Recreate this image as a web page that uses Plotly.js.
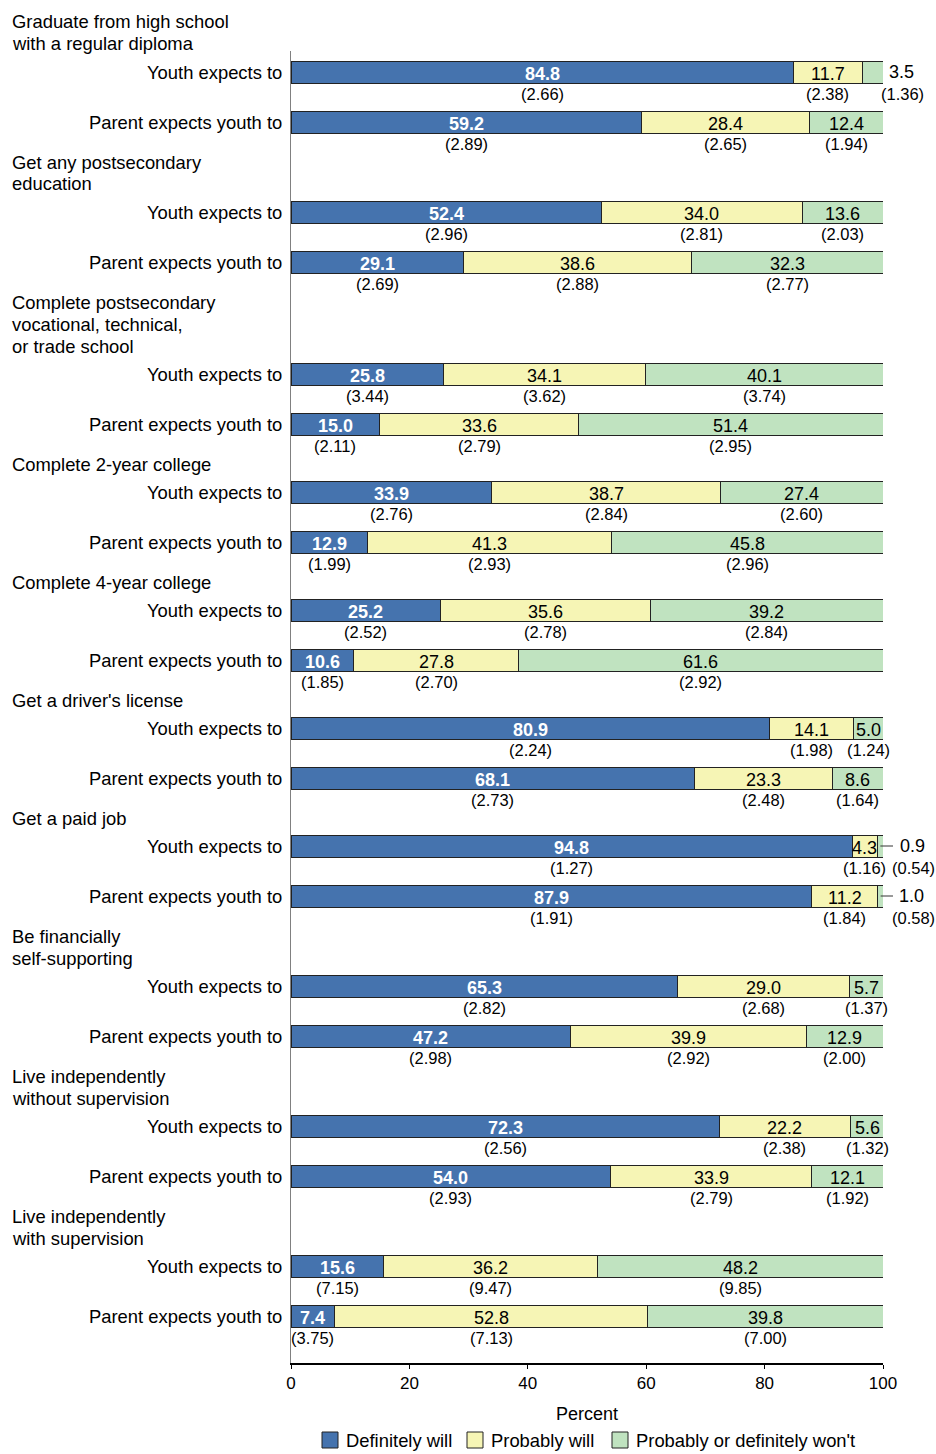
<!DOCTYPE html>
<html>
<head>
<meta charset="utf-8">
<script src="https://cdn.plot.ly/plotly-3.0.1.min.js"></script>
<style>html,body{margin:0;padding:0;background:#fff;}#chart{width:936px;height:1454px;}</style>
</head>
<body>
<div id="chart"></div>
<script>
// ---------- DATA ----------
const groupHeaders = [
  ["Graduate from high school", "with a regular diploma"],
  ["Get any postsecondary", "education"],
  ["Complete postsecondary", "vocational, technical,", "or trade school"],
  ["Complete 2-year college"],
  ["Complete 4-year college"],
  ["Get a driver's license"],
  ["Get a paid job"],
  ["Be financially", "self-supporting"],
  ["Live independently", "without supervision"],
  ["Live independently", "with supervision"]
];
const respondents = ["Youth expects to", "Parent expects youth to"];
const seriesNames = ["Definitely will", "Probably will", "Probably or definitely won't"];
const xAxisTitle = "Percent";

// rows: for each group, youth then parent
const definitelyWill = [84.8, 59.2, 52.4, 29.1, 25.8, 15.0, 33.9, 12.9, 25.2, 10.6, 80.9, 68.1, 94.8, 87.9, 65.3, 47.2, 72.3, 54.0, 15.6, 7.4];
const probablyWill   = [11.7, 28.4, 34.0, 38.6, 34.1, 33.6, 38.7, 41.3, 35.6, 27.8, 14.1, 23.3, 4.3, 11.2, 29.0, 39.9, 22.2, 33.9, 36.2, 52.8];
const wont           = [3.5, 12.4, 13.6, 32.3, 40.1, 51.4, 27.4, 45.8, 39.2, 61.6, 5.0, 8.6, 0.9, 1.0, 5.7, 12.9, 5.6, 12.1, 48.2, 39.8];
const seDefinitely   = [2.66, 2.89, 2.96, 2.69, 3.44, 2.11, 2.76, 1.99, 2.52, 1.85, 2.24, 2.73, 1.27, 1.91, 2.82, 2.98, 2.56, 2.93, 7.15, 3.75];
const seProbably     = [2.38, 2.65, 2.81, 2.88, 3.62, 2.79, 2.84, 2.93, 2.78, 2.70, 1.98, 2.48, 1.16, 1.84, 2.68, 2.92, 2.38, 2.79, 9.47, 7.13];
const seWont         = [1.36, 1.94, 2.03, 2.77, 3.74, 2.95, 2.60, 2.96, 2.84, 2.92, 1.24, 1.64, 0.54, 0.58, 1.37, 2.00, 1.32, 1.92, 9.85, 7.00];
const xTicks = [0, 20, 40, 60, 80, 100];

// ---------- LAYOUT / STYLE ----------
const W = 936, H = 1454;
const M = {l: 291, r: 53, t: 51, b: 91};
const plotW = W - M.l - M.r;
const plotH = H - M.t - M.b;
const pxPerUnit = plotW / 100;
const colors = ["#4573ae", "#f6f5b5", "#c0e3c0"];
const FONT = "Arial, 'Liberation Sans', sans-serif";
const LABEL_SIZE = 18.4;
const xp = px => (px - M.l) / plotW;          // pixel -> paper x
const yp = py => (H - M.b - py) / plotH;      // pixel -> paper y

// vertical layout in pixel-units (y axis is mapped 1:1 to pixels)
const headerLine = 22, headerToBar = 28, rowGap = 50, groupGap = 40;
let cursor = 22;
const headerPos = [];
const rowY = [];
groupHeaders.forEach(lines => {
  lines.forEach((t, i) => headerPos.push({text: t, y: cursor + headerLine * i}));
  const last = cursor + headerLine * (lines.length - 1);
  const youth = last + headerToBar;
  const parent = youth + rowGap;
  rowY.push(youth, parent);
  cursor = parent + groupGap;
});
const rowLabels = rowY.map((_, i) => respondents[i % 2]);

const series = [definitelyWill, probablyWill, wont];
const seSeries = [seDefinitely, seProbably, seWont];

const traces = series.map((vals, k) => ({
  type: "bar",
  orientation: "h",
  name: seriesNames[k],
  x: vals,
  y: rowY,
  width: 22,
  marker: {color: colors[k], line: {color: "#222", width: 1}},
  hoverinfo: "skip"
}));

const annotations = [];
const shapes = [];

// group headers
headerPos.forEach(h => annotations.push({
  xref: "paper", yref: "paper", x: xp(10), y: yp(h.y),
  xanchor: "left", yanchor: "middle", showarrow: false,
  text: h.text, font: {family: FONT, size: LABEL_SIZE, color: "#000"}
}));
// row labels
rowY.forEach((y, i) => annotations.push({
  xref: "paper", yref: "y", x: xp(284), y: y,
  xanchor: "right", yanchor: "middle", showarrow: false,
  text: rowLabels[i], font: {family: FONT, size: LABEL_SIZE, color: "#000"}
}));

// value and SE labels
rowY.forEach((y, i) => {
  let start = 0;
  series.forEach((vals, k) => {
    const v = vals[i];
    const se = seSeries[k][i];
    const cx = start + v / 2;
    const isBlue = k === 0;
    const valText = isBlue ? "<b>" + v.toFixed(1) + "</b>" : v.toFixed(1);
    const valFont = {family: FONT, size: 18, color: isBlue ? "#fff" : "#000"};
    const seText = "(" + se.toFixed(2) + ")";
    const seFont = {family: FONT, size: 16.5, color: "#000"};
    if (v < 4) {
      // small segment: label placed outside, right of the bar
      const labelPx = v < 2 ? 912 : 901;
      if (v < 2) {
        annotations.push({
          xref: "x", yref: "y", x: cx, y: y,
          ax: labelPx - (M.l + cx * pxPerUnit), ay: 0, axref: "pixel", ayref: "pixel",
          showarrow: true, arrowhead: 0, arrowwidth: 1, arrowcolor: "#333",
          standoff: 0, borderpad: 6,
          text: valText, font: valFont
        });
      } else {
        annotations.push({
          xref: "paper", yref: "y", x: xp(labelPx), y: y,
          xanchor: "center", yanchor: "middle", showarrow: false,
          text: valText, font: valFont
        });
      }
      annotations.push({
        xref: "paper", yref: "y", x: xp(labelPx + 1), y: y + 22,
        xanchor: "center", yanchor: "middle", showarrow: false,
        text: seText, font: seFont
      });
    } else {
      annotations.push({
        xref: "x", yref: "y", x: cx, y: y + 1.5,
        xanchor: "center", yanchor: "middle", showarrow: false,
        text: valText, font: valFont
      });
      annotations.push({
        xref: "x", yref: "y", x: cx, y: y + 22,
        xanchor: "center", yanchor: "middle", showarrow: false,
        text: seText, font: seFont
      });
    }
    start += v;
  });
});

// x-axis title
annotations.push({
  xref: "paper", yref: "paper", x: 0.5, y: yp(1414),
  xanchor: "center", yanchor: "middle", showarrow: false,
  text: xAxisTitle, font: {family: FONT, size: 18, color: "#000"}
});

// manual legend (so it does not push the plot margins)
const legendItems = [
  {swatch: 322, text: 344},
  {swatch: 467, text: 489},
  {swatch: 612, text: 634}
];
const legendY = 1440;
legendItems.forEach((it, k) => {
  shapes.push({
    type: "rect", xref: "paper", yref: "paper",
    x0: xp(it.swatch), x1: xp(it.swatch + 16), y0: yp(legendY - 8), y1: yp(legendY + 8),
    fillcolor: colors[k], line: {color: "#222", width: 1}
  });
  annotations.push({
    xref: "paper", yref: "paper", x: xp(it.text), y: yp(legendY),
    xanchor: "left", yanchor: "middle", showarrow: false,
    text: seriesNames[k], font: {family: FONT, size: LABEL_SIZE, color: "#000"}
  });
});

const layout = {
  width: W, height: H,
  margin: M,
  paper_bgcolor: "#fff", plot_bgcolor: "#fff",
  barmode: "stack",
  showlegend: false,
  font: {family: FONT, color: "#000"},
  xaxis: {
    range: [0, 100], fixedrange: true, automargin: false,
    tickvals: xTicks, ticktext: xTicks.map(String),
    ticks: "outside", ticklen: 4, tickcolor: "#000", tickwidth: 1,
    showline: true, linecolor: "#000", linewidth: 1.5,
    showgrid: false, zeroline: false,
    tickfont: {family: FONT, size: 17, color: "#000"}
  },
  yaxis: {
    range: [H - M.b, M.t], fixedrange: true, automargin: false,
    showticklabels: false, ticks: "", showgrid: false, zeroline: false,
    showline: true, linecolor: "#808080", linewidth: 1.5
  },
  annotations: annotations,
  shapes: shapes
};

Plotly.newPlot("chart", traces, layout, {displayModeBar: false, staticPlot: true});
</script>
</body>
</html>
